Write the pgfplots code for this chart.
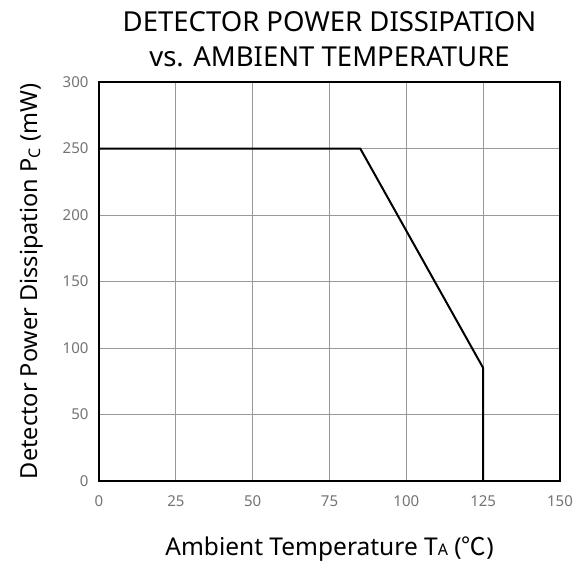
\documentclass[border=0pt]{standalone}
\usepackage{pgfplots}
\pgfplotsset{compat=1.18}
\usepackage{fontspec}
\setmainfont{Noto Sans}
\newfontfamily\cjk{Noto Sans CJK JP}
\begin{document}
\begin{tikzpicture}[x=1pt,y=1pt]
\useasboundingbox (-99,-82) rectangle (487,481);
\begin{axis}[
  at={(0,0)}, anchor=south west,
  scale only axis, width=461pt, height=399pt,
  xmin=0, xmax=150, ymin=0, ymax=300,
  xtick={0,25,...,150}, ytick={0,50,...,300},
  grid=major,
  major grid style={gray!80, line width=0.8pt},
  axis line style={black, line width=1.4pt},
  tick style={draw=none},
  /pgf/number format/assume math mode=true,
  ticklabel style={font=\fontsize{15}{17}\selectfont, text=gray!90!black},
  xticklabel style={yshift=-11pt},
  yticklabel style={xshift=-7pt},
  xlabel={Ambient Temperature T{\fontsize{16}{18}\selectfont A} ({\cjk ℃})},
  ylabel={Detector Power Dissipation P\textsubscript{\fontsize{16}{18}\selectfont C} (mW)},
  xlabel style={font=\fontsize{24.5}{28}\selectfont, yshift=-23pt},
  ylabel style={font=\fontsize{23.5}{26}\selectfont, yshift=13pt},
  title={DETECTOR POWER DISSIPATION\\vs. AMBIENT TEMPERATURE},
  title style={font=\fontsize{27.5}{35}\selectfont, align=center, yshift=6pt},
]
\addplot[black, line width=2pt] coordinates {(0,250) (85,250) (125,85) (125,0)};
\end{axis}
\end{tikzpicture}
\end{document}
